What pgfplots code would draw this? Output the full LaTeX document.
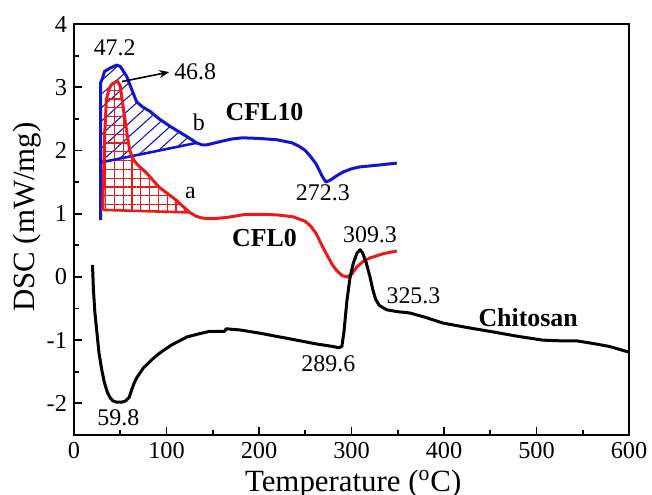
\documentclass[border=0pt]{standalone}
\usepackage{fontspec}
\setmainfont{Liberation Serif}
\usepackage{pgfplots}
\pgfplotsset{compat=1.18}
\usetikzlibrary{patterns.meta,arrows.meta}
\definecolor{cblue}{RGB}{20,20,205}
\definecolor{cred}{RGB}{235,25,25}

\begin{document}
\begin{tikzpicture}
\useasboundingbox (-37bp,-30bp) rectangle (289bp,217.5bp);
\begin{axis}[
  scale only axis, width=277.5bp, height=205.5bp,
  xmin=0, xmax=600, ymin=-2.5, ymax=4,
  xtick={0,100,200,300,400,500,600}, xticklabels={0,100,200,300,400,500,600},
  minor xtick={50,150,...,550},
  ytick={-2,-1,0,1,2,3,4}, yticklabels={-2,-1,0,1,2,3,4},
  minor ytick={-1.5,-0.5,0.5,1.5,2.5,3.5},
  xtick pos=bottom, ytick pos=left, tick align=inside,
  major tick length=4bp, minor tick length=2.5bp,
  axis line style={line width=1bp},
  every tick/.style={black, line width=0.9bp},
  tick label style={font=\rmfamily\fontsize{12.2}{14}\selectfont},
  /pgf/number format/assume math mode=true,
  xlabel={Temperature (\textsuperscript{o}C)},
  ylabel={DSC (mW/mg)},
  label style={font=\rmfamily\fontsize{15.5}{18}\selectfont},
  xlabel style={at={(axis description cs:0.503,-0.119)}, anchor=center},
  ylabel style={at={(axis description cs:-0.084,0.53)}, anchor=center},
  clip=false,
]
% hatched area b (CFL10)
\addplot[draw=none, pattern={Lines[angle=42,distance=5bp,line width=0.55bp]}, pattern color=cblue, forget plot]
coordinates {(28.8,1.81) (28.8,3.07) (31,3.15) (33,3.25) (38.6,3.3) (46,3.35) (50,3.33) (54,3.24) (57,3.17) (62,2.98) (67.7,2.77) (74,2.69) (82,2.62) (92,2.5) (104,2.38) (113,2.3) (122,2.22) (132.6,2.12)} -- cycle;
% hatched area a (CFL0)
\addplot[draw=none, pattern={Hatch[angle=0,distance=4.4bp,line width=0.55bp]}, pattern color=cred, forget plot]
coordinates {(31,1.06) (32,1.6) (33,2.2) (35,2.8) (38,2.98) (41,3.05) (46.8,3.1) (50,3.02) (53,2.7) (56,2.4) (58,2.2) (60,2.02) (62.6,1.9) (66,1.82) (69,1.77) (78,1.65) (92,1.42) (110,1.22) (125,1.02)} -- cycle;
% baselines
\addplot[cred, line width=1.3bp, forget plot] coordinates {(31,1.06) (125,1.02)};
\addplot[cblue, line width=1.3bp, forget plot] coordinates {(28.8,1.81) (132.6,2.12)};
% CFL10
\addplot[cblue, line width=1.5bp, line join=round] coordinates {
(28.8,0.9) (28.8,2.0) (28.8,3.07) (31,3.15) (33,3.25) (38.6,3.3) (46,3.35) (50,3.33) (54,3.24) (57,3.17) (62,2.98) (67.7,2.77) (74,2.69) (82,2.62) (92,2.5) (104,2.38) (113,2.3) (122,2.22) (132.6,2.12) (138,2.09) (144,2.09) (158,2.14) (170,2.18) (182,2.2) (200,2.19) (219,2.17) (236,2.12) (244,2.06) (250,2.0) (256,1.9) (262,1.78) (268,1.6) (272.3,1.5) (277,1.53) (284,1.6) (291,1.66) (300,1.71) (309,1.74) (330,1.77) (349,1.8)};
% CFL0
\addplot[cred, line width=1.5bp, line join=round] coordinates {
(31,1.06) (32,1.6) (33,2.2) (35,2.8) (38,2.98) (41,3.05) (46.8,3.1) (50,3.02) (53,2.7) (56,2.4) (58,2.2) (60,2.02) (62.6,1.9) (66,1.82) (69,1.77) (78,1.65) (92,1.42) (110,1.22) (125,1.02) (132,0.96) (139,0.93) (150,0.92) (165,0.94) (186,0.99) (205,0.99) (220,0.98) (237,0.95) (250,0.88) (256,0.8) (262,0.68) (268,0.5) (273,0.36) (279,0.2) (284,0.1) (290,0.02) (295,0.0) (300,0.04) (306,0.16) (313,0.25) (320,0.3) (335,0.37) (349,0.41)};
% Chitosan
\addplot[black, line width=1.5bp, line join=round] coordinates {
(20,0.19) (21,-0.2) (22.5,-0.55) (24.5,-0.84) (27,-1.2) (30,-1.47) (33,-1.68) (36,-1.82) (39,-1.91) (42,-1.96) (46,-1.98) (52,-1.98) (56,-1.96) (59.8,-1.9) (62,-1.8) (65,-1.68) (68,-1.59) (75,-1.44) (84,-1.31) (93,-1.2) (105,-1.08) (122,-0.95) (135,-0.9) (147,-0.86) (163,-0.86) (164.5,-0.82) (180,-0.84) (201,-0.89) (230,-0.97) (262,-1.06) (280,-1.1) (286,-1.12) (289.6,-1.1) (292,-0.85) (295,-0.38) (298.5,0.0) (302,0.22) (306,0.38) (309.3,0.43) (312,0.38) (316,0.22) (320,0.0) (323,-0.2) (326,-0.35) (330,-0.45) (338,-0.52) (350,-0.55) (363,-0.57) (380,-0.64) (399,-0.73) (425,-0.8) (453,-0.87) (480,-0.94) (507,-1.0) (525,-1.01) (543,-1.01) (560,-1.05) (579,-1.1) (600,-1.19)};
% arrow
\draw[black, line width=0.8bp, -{Stealth[length=5bp,width=4bp]}] (axis cs:52,3.09) -- (axis cs:103,3.24);
% annotations
\begin{scope}[every node/.style={font=\rmfamily\fontsize{12}{14}\selectfont, inner sep=0pt}]
\node at (axis cs:44,3.62) {47.2};
\node at (axis cs:131,3.24) {46.8};
\node at (axis cs:135,2.44) {b};
\node at (axis cs:126,1.33) {a};
\node[font=\rmfamily\fontsize{13}{15}\selectfont\bfseries] at (axis cs:206,2.61) {CFL10};
\node[font=\rmfamily\fontsize{13}{15}\selectfont\bfseries] at (axis cs:206,0.62) {CFL0};
\node[font=\rmfamily\fontsize{13}{15}\selectfont\bfseries] at (axis cs:491,-0.65) {Chitosan};
\node at (axis cs:269,1.33) {272.3};
\node at (axis cs:320,0.66) {309.3};
\node at (axis cs:367,-0.29) {325.3};
\node at (axis cs:275,-1.38) {289.6};
\node at (axis cs:48,-2.23) {59.8};
\end{scope}
\end{axis}
\end{tikzpicture}
\end{document}
